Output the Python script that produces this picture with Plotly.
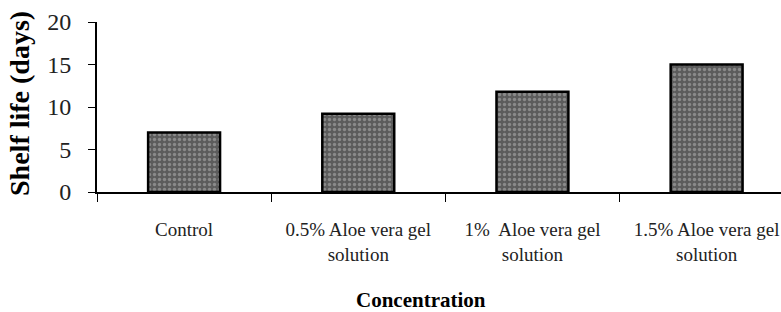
import plotly.graph_objects as go

categories = ["Control", "0.5% Aloe vera gel<br>solution", "1%  Aloe vera gel<br>solution", "1.5% Aloe vera gel<br>solution"]
shelf_life = [7.0, 9.2, 11.8, 15.0]
y_ticks = [0, 5, 10, 15, 20]

fig = go.Figure()
fig.add_trace(go.Bar(
    x=categories, y=shelf_life,
    marker=dict(color="#5c5c5c",
                line=dict(color="black", width=2.5),
                pattern=dict(shape=".", fgcolor="#b8b8b8", bgcolor="#5c5c5c", size=5, solidity=0.35)),
))

serif = "Liberation Serif, Times New Roman, serif"
fig.update_layout(
    width=781, height=312,
    margin=dict(l=97, r=0, t=22, b=120, autoexpand=False),
    plot_bgcolor="white", paper_bgcolor="white",
    bargap=0.587, showlegend=False,
    font=dict(family=serif, color="black"),
    xaxis=dict(type="category", range=[-0.5, 3.427], showline=True, linecolor="black", linewidth=2,
               ticks="outside", ticklen=8, tickcolor="black", tickson="boundaries", automargin=False,
               tickfont=dict(size=19, family=serif, color="#222"), showgrid=False, ticklabelstandoff=19),
    yaxis=dict(range=[0, 20], tickvals=y_ticks, showline=True, linecolor="black", linewidth=2,
               ticks="outside", ticklen=7, tickcolor="black", showgrid=False, zeroline=False, automargin=False,
               tickfont=dict(size=24, family=serif, color="#222"), ticklabelstandoff=12),
)
fig.add_annotation(text="<b>Shelf life (days)</b>", xref="paper", yref="paper",
                   x=-0.1135, y=0.52, textangle=-90, showarrow=False,
                   font=dict(size=28, family=serif, color="black"), xanchor="center", yanchor="middle")
fig.add_annotation(text="<b>Concentration</b>", xref="paper", yref="paper",
                   x=0.473, y=-0.635, showarrow=False,
                   font=dict(size=21, family=serif, color="black"), xanchor="center", yanchor="middle")
fig.write_html("out.html", config={"displayModeBar": False},
               post_script="document.body.style.margin='0';document.body.style.overflow='hidden';")
